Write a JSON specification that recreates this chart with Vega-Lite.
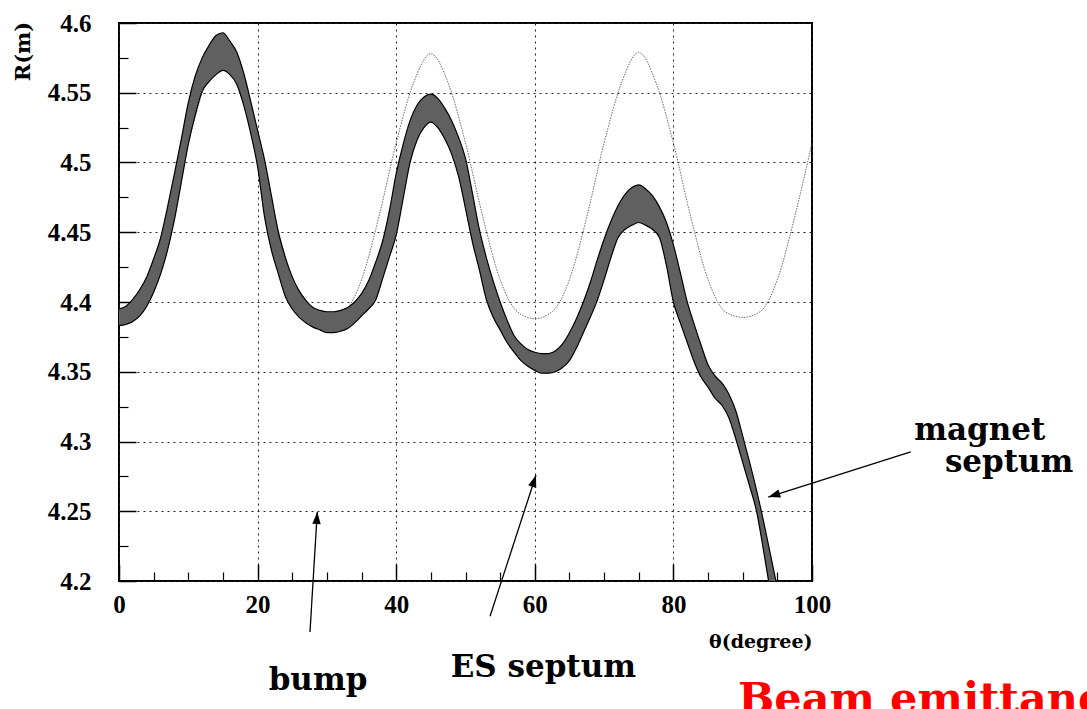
{
  "$schema": "https://vega.github.io/schema/vega-lite/v6.json",
  "width": 693,
  "height": 558,
  "autosize": {"type": "none"},
  "padding": {"left": 119, "top": 23, "right": 275, "bottom": 128},
  "background": "white",
  "config": {
    "view": {"stroke": "#000", "strokeWidth": 2},
    "axis": {"domain": false, "tickColor": "#000", "labelColor": "#000", "titleColor": "#000", "labelFont": "Liberation Serif", "labelFontWeight": "bold", "labelFontSize": 25}
  },
  "datasets": {
    "band": [
      {"t":0,"lo":4.383,"hi":4.395},{"t":1,"lo":4.384,"hi":4.397},{"t":2,"lo":4.386,"hi":4.402},{"t":3,"lo":4.390,"hi":4.409},
      {"t":4,"lo":4.397,"hi":4.418},{"t":5,"lo":4.407,"hi":4.431},{"t":6,"lo":4.420,"hi":4.446},{"t":7,"lo":4.437,"hi":4.468},
      {"t":8,"lo":4.459,"hi":4.492},{"t":9,"lo":4.486,"hi":4.517},{"t":10,"lo":4.513,"hi":4.543},{"t":11,"lo":4.534,"hi":4.562},
      {"t":12,"lo":4.551,"hi":4.575},{"t":13,"lo":4.558,"hi":4.584},{"t":14,"lo":4.563,"hi":4.591},{"t":15,"lo":4.566,"hi":4.593},
      {"t":16,"lo":4.563,"hi":4.587},{"t":17,"lo":4.556,"hi":4.579},{"t":18,"lo":4.541,"hi":4.564},{"t":19,"lo":4.521,"hi":4.544},
      {"t":20,"lo":4.497,"hi":4.523},{"t":21,"lo":4.461,"hi":4.502},{"t":22,"lo":4.437,"hi":4.476},{"t":23,"lo":4.420,"hi":4.450},
      {"t":24,"lo":4.404,"hi":4.432},{"t":25,"lo":4.395,"hi":4.418},{"t":26,"lo":4.389,"hi":4.408},{"t":27,"lo":4.385,"hi":4.401},
      {"t":28,"lo":4.382,"hi":4.396},{"t":29,"lo":4.380,"hi":4.394},{"t":30,"lo":4.378,"hi":4.393},{"t":31,"lo":4.378,"hi":4.393},
      {"t":32,"lo":4.379,"hi":4.394},{"t":33,"lo":4.381,"hi":4.396},{"t":34,"lo":4.385,"hi":4.400},{"t":35,"lo":4.390,"hi":4.406},
      {"t":36,"lo":4.395,"hi":4.415},{"t":37,"lo":4.401,"hi":4.428},{"t":38,"lo":4.416,"hi":4.443},{"t":39,"lo":4.432,"hi":4.465},
      {"t":40,"lo":4.448,"hi":4.492},{"t":41,"lo":4.474,"hi":4.513},{"t":42,"lo":4.500,"hi":4.530},{"t":43,"lo":4.516,"hi":4.541},
      {"t":44,"lo":4.525,"hi":4.547},{"t":45,"lo":4.529,"hi":4.549},{"t":46,"lo":4.525,"hi":4.546},{"t":47,"lo":4.517,"hi":4.539},
      {"t":48,"lo":4.506,"hi":4.530},{"t":49,"lo":4.490,"hi":4.518},{"t":50,"lo":4.467,"hi":4.503},{"t":51,"lo":4.443,"hi":4.478},
      {"t":52,"lo":4.423,"hi":4.452},{"t":53,"lo":4.402,"hi":4.432},{"t":54,"lo":4.389,"hi":4.415},{"t":55,"lo":4.380,"hi":4.400},
      {"t":56,"lo":4.371,"hi":4.387},{"t":57,"lo":4.364,"hi":4.376},{"t":58,"lo":4.358,"hi":4.370},{"t":59,"lo":4.354,"hi":4.366},
      {"t":60,"lo":4.351,"hi":4.364},{"t":61,"lo":4.349,"hi":4.363},{"t":62,"lo":4.349,"hi":4.363},{"t":63,"lo":4.350,"hi":4.365},
      {"t":64,"lo":4.353,"hi":4.370},{"t":65,"lo":4.358,"hi":4.378},{"t":66,"lo":4.367,"hi":4.388},{"t":67,"lo":4.378,"hi":4.400},
      {"t":68,"lo":4.389,"hi":4.414},{"t":69,"lo":4.401,"hi":4.430},{"t":70,"lo":4.416,"hi":4.445},{"t":71,"lo":4.432,"hi":4.458},
      {"t":72,"lo":4.446,"hi":4.469},{"t":73,"lo":4.452,"hi":4.477},{"t":74,"lo":4.455,"hi":4.482},{"t":75,"lo":4.457,"hi":4.484},
      {"t":76,"lo":4.455,"hi":4.481},{"t":77,"lo":4.452,"hi":4.476},{"t":78,"lo":4.446,"hi":4.468},{"t":79,"lo":4.426,"hi":4.457},
      {"t":80,"lo":4.400,"hi":4.441},{"t":81,"lo":4.385,"hi":4.421},{"t":82,"lo":4.371,"hi":4.400},{"t":83,"lo":4.357,"hi":4.384},
      {"t":84,"lo":4.346,"hi":4.369},{"t":85,"lo":4.339,"hi":4.355},{"t":86,"lo":4.331,"hi":4.347},{"t":87,"lo":4.326,"hi":4.342},
      {"t":88,"lo":4.317,"hi":4.334},{"t":89,"lo":4.302,"hi":4.322},{"t":90,"lo":4.285,"hi":4.304},{"t":91,"lo":4.268,"hi":4.285},
      {"t":92,"lo":4.250,"hi":4.265},{"t":93,"lo":4.222,"hi":4.243},{"t":94,"lo":4.192,"hi":4.219},{"t":95,"lo":4.165,"hi":4.195},
      {"t":96,"lo":4.138,"hi":4.170}
    ],
    "orbit": [
      {"t":0,"r":4.388},{"t":2.5,"r":4.393},{"t":5,"r":4.416},{"t":7.5,"r":4.461},{"t":10,"r":4.514},{"t":12.5,"r":4.557},
      {"t":15,"r":4.579},{"t":17.5,"r":4.557},{"t":20,"r":4.514},{"t":22.5,"r":4.461},{"t":25,"r":4.416},{"t":27.5,"r":4.393},
      {"t":30,"r":4.388},{"t":32.5,"r":4.393},{"t":35,"r":4.416},{"t":37.5,"r":4.461},{"t":40,"r":4.514},{"t":42.5,"r":4.557},
      {"t":45,"r":4.578},{"t":47.5,"r":4.557},{"t":50,"r":4.514},{"t":52.5,"r":4.461},{"t":55,"r":4.416},{"t":57.5,"r":4.393},
      {"t":60,"r":4.388},{"t":62.5,"r":4.393},{"t":65,"r":4.416},{"t":67.5,"r":4.461},{"t":70,"r":4.514},{"t":72.5,"r":4.557},
      {"t":75,"r":4.579},{"t":77.5,"r":4.557},{"t":80,"r":4.514},{"t":82.5,"r":4.461},{"t":85,"r":4.416},{"t":87.5,"r":4.393},
      {"t":90,"r":4.389},{"t":92.5,"r":4.393},{"t":95,"r":4.416},{"t":97.5,"r":4.461},{"t":100,"r":4.514}
    ],
    "arrows": [
      {"name":"bump","t":27.56,"r":4.1634,"t2":28.61,"r2":4.2495},
      {"name":"es","t":53.54,"r":4.1747,"t2":60.17,"r2":4.2758},
      {"name":"magnet","t":114.24,"r":4.2925,"t2":93.69,"r2":4.2602}
    ],
    "notes": [
      {"t":28.72,"r":4.1216,"label":"bump"},
      {"t":61.23,"r":4.1311,"label":"ES septum"},
      {"t":124.2,"r":4.3009,"label":"magnet"},
      {"t":128.45,"r":4.2782,"label":"septum"}
    ],
    "caption": [
      {"t":89.32,"r":4.1051,"label":"Beam emittance"}
    ]
  },
  "layer": [
    {
      "data": {"name": "orbit"},
      "mark": {"type": "line", "interpolate": "monotone", "stroke": "#444", "strokeWidth": 0.8, "strokeDash": [1.5, 1.2], "clip": true},
      "encoding": {
        "x": {"field": "t", "type": "quantitative", "scale": {"domain": [0, 100], "nice": false, "zero": false},
          "axis": {"orient": "bottom", "values": [5,10,15,25,30,35,45,50,55,65,70,75,85,90,95], "grid": false, "labels": false, "ticks": true, "tickSize": -9, "tickWidth": 1.2, "title": null}},
        "y": {"field": "r", "type": "quantitative", "scale": {"domain": [4.2, 4.6], "nice": false, "zero": false},
          "axis": {"orient": "left", "values": [4.225,4.275,4.325,4.375,4.425,4.475,4.525,4.575], "grid": false, "labels": false, "ticks": true, "tickSize": -9, "tickWidth": 1.2, "title": null}}
      }
    },
    {
      "data": {"name": "band"},
      "mark": {"type": "area", "interpolate": "monotone", "fill": "#606060", "clip": true},
      "encoding": {
        "x": {"field": "t", "type": "quantitative", "scale": {"domain": [0, 100], "nice": false, "zero": false},
          "axis": {"orient": "bottom", "values": [0,20,40,60,80,100], "grid": true, "gridColor": "#222", "gridDash": [2,4], "gridWidth": 1,
            "ticks": true, "tickSize": -17, "tickWidth": 1.5,
            "labelFont": "Liberation Serif", "labelFontWeight": "bold", "labelFontSize": 25, "labelPadding": 28, "labelFlush": false, "labelOverlap": false,
            "title": "θ(degree)", "titleFont": "DejaVu Serif", "titleFontWeight": "bold", "titleFontSize": 19,
            "titleAnchor": "end", "titleAlign": "right", "titleBaseline": "middle", "titleX": 693, "titleY": 60}},
        "y": {"field": "lo", "type": "quantitative", "scale": {"domain": [4.2, 4.6], "nice": false, "zero": false},
          "axis": {"orient": "left", "values": [4.2,4.25,4.3,4.35,4.4,4.45,4.5,4.55,4.6], "format": ".2~f", "grid": true, "gridColor": "#222", "gridDash": [2,4], "gridWidth": 1,
            "ticks": true, "tickSize": -17, "tickWidth": 1.5,
            "labelFont": "Liberation Serif", "labelFontWeight": "bold", "labelFontSize": 25, "labelPadding": 45, "labelFlush": false, "labelOverlap": false,
            "title": "R(m)", "titleFont": "DejaVu Serif", "titleFontWeight": "bold", "titleFontSize": 21,
            "titleAngle": -90, "titleAlign": "center", "titleBaseline": "middle", "titleX": -96, "titleY": 28}},
        "y2": {"field": "hi"}
      }
    },
    {
      "data": {"name": "band"},
      "mark": {"type": "line", "interpolate": "monotone", "stroke": "#000", "strokeWidth": 1.2, "clip": true},
      "encoding": {
        "x": {"field": "t", "type": "quantitative", "scale": {"domain": [0, 100], "nice": false, "zero": false}, "axis": null},
        "y": {"field": "lo", "type": "quantitative", "scale": {"domain": [4.2, 4.6], "nice": false, "zero": false}, "axis": null}
      }
    },
    {
      "data": {"name": "band"},
      "mark": {"type": "line", "interpolate": "monotone", "stroke": "#000", "strokeWidth": 1.2, "clip": true},
      "encoding": {
        "x": {"field": "t", "type": "quantitative", "scale": {"domain": [0, 100], "nice": false, "zero": false}, "axis": null},
        "y": {"field": "hi", "type": "quantitative", "scale": {"domain": [4.2, 4.6], "nice": false, "zero": false}, "axis": null}
      }
    },
    {
      "data": {"name": "arrows"},
      "mark": {"type": "rule", "stroke": "#000", "strokeWidth": 1.3},
      "encoding": {
        "x": {"field": "t", "type": "quantitative", "scale": {"domain": [0, 100], "nice": false, "zero": false}, "axis": null},
        "y": {"field": "r", "type": "quantitative", "scale": {"domain": [4.2, 4.6], "nice": false, "zero": false}, "axis": null},
        "x2": {"field": "t2"},
        "y2": {"field": "r2"}
      }
    },
    {
      "data": {"name": "arrows"},
      "transform": [{"filter": "datum.name === 'bump'"}],
      "mark": {"type": "point", "shape": "M0,0L-0.35,1L0.35,1Z", "size": 576, "filled": true, "fill": "#000", "strokeWidth": 0, "opacity": 1, "angle": 3.5},
      "encoding": {
        "x": {"field": "t2", "type": "quantitative", "scale": {"domain": [0, 100], "nice": false, "zero": false}, "axis": null},
        "y": {"field": "r2", "type": "quantitative", "scale": {"domain": [4.2, 4.6], "nice": false, "zero": false}, "axis": null}
      }
    },
    {
      "data": {"name": "arrows"},
      "transform": [{"filter": "datum.name === 'es'"}],
      "mark": {"type": "point", "shape": "M0,0L-0.35,1L0.35,1Z", "size": 576, "filled": true, "fill": "#000", "strokeWidth": 0, "opacity": 1, "angle": 18.1},
      "encoding": {
        "x": {"field": "t2", "type": "quantitative", "scale": {"domain": [0, 100], "nice": false, "zero": false}, "axis": null},
        "y": {"field": "r2", "type": "quantitative", "scale": {"domain": [4.2, 4.6], "nice": false, "zero": false}, "axis": null}
      }
    },
    {
      "data": {"name": "arrows"},
      "transform": [{"filter": "datum.name === 'magnet'"}],
      "mark": {"type": "point", "shape": "M0,0L-0.35,1L0.35,1Z", "size": 576, "filled": true, "fill": "#000", "strokeWidth": 0, "opacity": 1, "angle": 252.5},
      "encoding": {
        "x": {"field": "t2", "type": "quantitative", "scale": {"domain": [0, 100], "nice": false, "zero": false}, "axis": null},
        "y": {"field": "r2", "type": "quantitative", "scale": {"domain": [4.2, 4.6], "nice": false, "zero": false}, "axis": null}
      }
    },
    {
      "data": {"name": "notes"},
      "mark": {"type": "text", "font": "DejaVu Serif", "fontWeight": "bold", "fontSize": 31, "align": "center", "baseline": "alphabetic", "fill": "#000"},
      "encoding": {
        "x": {"field": "t", "type": "quantitative", "scale": {"domain": [0, 100], "nice": false, "zero": false}, "axis": null},
        "y": {"field": "r", "type": "quantitative", "scale": {"domain": [4.2, 4.6], "nice": false, "zero": false}, "axis": null},
        "text": {"field": "label"}
      }
    },
    {
      "data": {"name": "caption"},
      "mark": {"type": "text", "font": "DejaVu Serif", "fontWeight": "bold", "fontSize": 43, "align": "left", "baseline": "alphabetic", "fill": "#ff0000"},
      "encoding": {
        "x": {"field": "t", "type": "quantitative", "scale": {"domain": [0, 100], "nice": false, "zero": false}, "axis": null},
        "y": {"field": "r", "type": "quantitative", "scale": {"domain": [4.2, 4.6], "nice": false, "zero": false}, "axis": null},
        "text": {"field": "label"}
      }
    }
  ],
  "resolve": {"axis": {"x": "independent", "y": "independent"}}
}
